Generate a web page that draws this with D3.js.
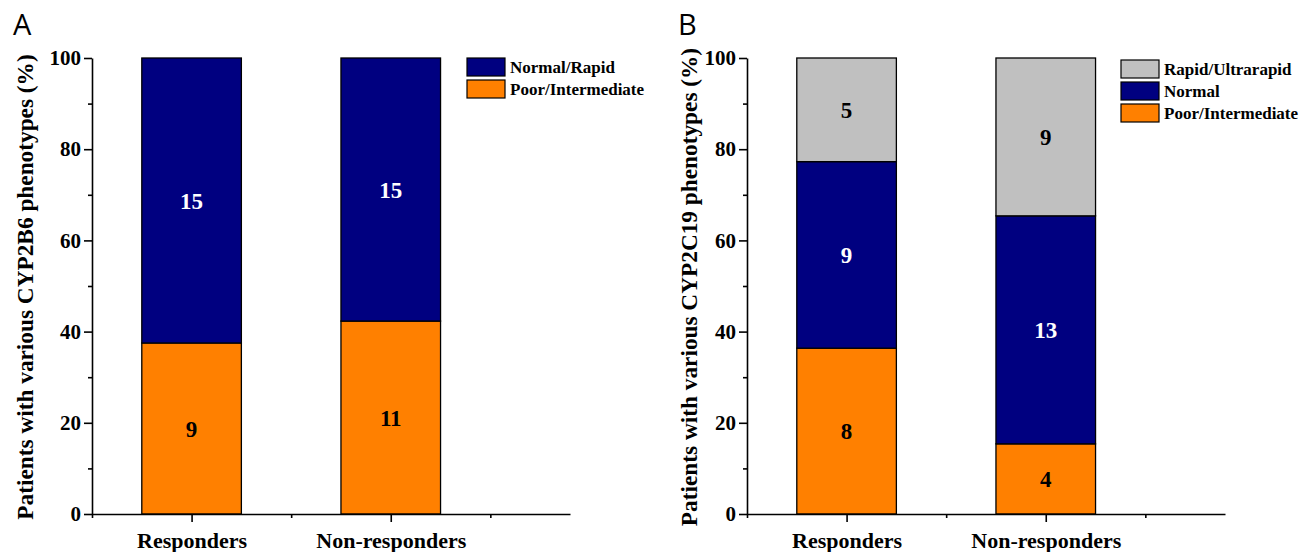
<!DOCTYPE html>
<html>
<head>
<meta charset="utf-8">
<script src="https://cdn.jsdelivr.net/npm/d3@7/dist/d3.min.js"></script>
<style>
  html, body { margin: 0; padding: 0; background: #fff; }
  svg { display: block; }
  svg text { font-family: "Liberation Serif", "Times New Roman", serif !important; font-weight: bold; fill: #000; }
  svg text.panel-letter { font-family: "Open Sans", "Liberation Sans", sans-serif !important; font-weight: normal; }
</style>
</head>
<body>
<svg id="chart" width="1301" height="552"></svg>
<script>
// ---- data ----
const categories = ["Responders", "Non-responders"];
// Panel A: CYP2B6 (counts)
const aSeries = ["Poor/Intermediate", "Normal/Rapid"];
const aPoor = [9, 11];
const aNormalRapid = [15, 15];
// Panel B: CYP2C19 (counts)
const bSeries = ["Poor/Intermediate", "Normal", "Rapid/Ultrarapid"];
const bPoor = [8, 4];
const bNormal = [9, 13];
const bRapid = [5, 9];
const yTickValues = [0, 20, 40, 60, 80, 100];
const yMinorValues = [10, 30, 50, 70, 90];

const colors = {
  "Poor/Intermediate": "#FF8000",
  "Normal/Rapid": "#000080",
  "Normal": "#000080",
  "Rapid/Ultrarapid": "#C0C0C0"
};
const labelColor = {
  "Poor/Intermediate": "#000",
  "Normal/Rapid": "#fff",
  "Normal": "#fff",
  "Rapid/Ultrarapid": "#000"
};

const svg = d3.select("#chart");

function drawPanel(opt) {
  const g = svg.append("g");
  const x = d3.scaleLinear().domain([0, 4.8]).range([opt.x0, opt.x0 + 478]);
  const y = d3.scaleLinear().domain([0, 100]).range([514, 58]);
  const catPos = [1, 3];

  const rows = categories.map((c, i) => {
    const r = { cat: c, pos: catPos[i] };
    opt.series.forEach((s, k) => { r[s] = opt.values[k][i]; });
    return r;
  });
  const stacked = d3.stack().keys(opt.series).offset(d3.stackOffsetExpand)(rows);

  // bars
  stacked.forEach(layer => {
    const key = layer.key;
    layer.forEach(d => {
      const x0 = x(d.data.pos - 0.5), x1 = x(d.data.pos + 0.5);
      const yTop = y(d[1] * 100), yBot = y(d[0] * 100);
      g.append("rect")
        .attr("x", x0).attr("y", yTop)
        .attr("width", x1 - x0).attr("height", yBot - yTop)
        .attr("fill", colors[key])
        .attr("stroke", "#000").attr("stroke-width", 1.3);
      g.append("text")
        .attr("x", x(d.data.pos))
        .attr("y", y((d[0] + d[1]) / 2 * 100))
        .attr("dy", "0.35em")
        .attr("text-anchor", "middle")
        .style("font-size", "23px")
        .style("fill", labelColor[key])
        .text(d.data[key]);
    });
  });

  // y axis
  const yAxis = g.append("g").attr("transform", `translate(${opt.x0},0)`)
    .call(d3.axisLeft(y).tickValues(yTickValues).tickSize(8).tickSizeOuter(0).tickPadding(3));
  yAxis.attr("font-family", null).attr("font-size", null);
  yAxis.selectAll("text").style("font-size", "21px");
  const yMinor = g.append("g").attr("transform", `translate(${opt.x0},0)`)
    .call(d3.axisLeft(y).tickValues(yMinorValues).tickSize(4).tickFormat(""));
  yMinor.select(".domain").remove();

  // x axis
  const xAxis = g.append("g").attr("transform", `translate(0,514)`)
    .call(d3.axisBottom(x).tickValues(catPos).tickSize(8).tickSizeOuter(0)
      .tickFormat((d, i) => categories[i]).tickPadding(10));
  xAxis.attr("font-family", null).attr("font-size", null);
  xAxis.selectAll("text").style("font-size", "22px");
  const xMinor = g.append("g").attr("transform", `translate(0,514)`)
    .call(d3.axisBottom(x).tickValues([0, 2, 4]).tickSize(4).tickFormat(""));
  xMinor.select(".domain").remove();

  g.selectAll(".domain, .tick line").attr("stroke", "#000").attr("stroke-width", 1.6);

  // y title
  g.append("text")
    .attr("transform", `translate(${opt.titleX},287) rotate(-90)`)
    .attr("text-anchor", "middle")
    .style("font-size", "23.3px")
    .text(opt.yTitle);

  // panel letter
  g.append("text").attr("class", "panel-letter")
    .attr("x", opt.letterX).attr("y", 35)
    .style("font-size", "29px")
    .text(opt.letter);

  // legend
  const legendOrder = opt.series.slice().reverse();
  legendOrder.forEach((s, i) => {
    const ly = opt.legY + i * opt.legStep;
    g.append("rect")
      .attr("x", opt.legX).attr("y", ly)
      .attr("width", 38).attr("height", 18)
      .attr("fill", colors[s]).attr("stroke", "#000").attr("stroke-width", 1.2);
    g.append("text")
      .attr("x", opt.legX + 43).attr("y", ly + 9)
      .attr("dy", "0.35em")
      .style("font-size", "17px")
      .text(s);
  });
}

drawPanel({
  x0: 92, series: aSeries, values: [aPoor, aNormalRapid],
  yTitle: "Patients with various CYP2B6 phenotypes (%)", titleX: 33,
  letter: "A", letterX: 13, legX: 467, legY: 58, legStep: 22
});
drawPanel({
  x0: 747, series: bSeries, values: [bPoor, bNormal, bRapid],
  yTitle: "Patients with various CYP2C19 phenotypes (%)", titleX: 697,
  letter: "B", letterX: 678, legX: 1121, legY: 60, legStep: 22
});
</script>
</body>
</html>
